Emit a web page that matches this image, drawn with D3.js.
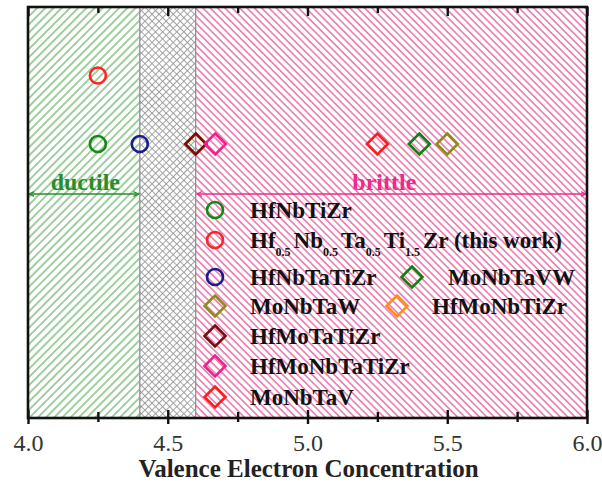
<!DOCTYPE html>
<html>
<head>
<meta charset="utf-8">
<script src="https://cdn.jsdelivr.net/npm/d3@7/dist/d3.min.js"></script>
<style>
  html, body { margin: 0; padding: 0; background: #fff; }
  svg { display: block; }
  svg text { font-family: "Liberation Serif", "Times New Roman", Times, "DejaVu Serif", serif !important; }
</style>
</head>
<body>
<svg id="chart" width="602" height="484"></svg>
<script>
// Alloys: label (with _{..} for subscripts), valence electron concentration, vertical level, marker, colour
const alloyNames = [
  "HfNbTiZr",
  "Hf_{0.5}Nb_{0.5}Ta_{0.5}Ti_{1.5}Zr (this work)",
  "HfNbTaTiZr",
  "MoNbTaVW",
  "MoNbTaW",
  "HfMoNbTiZr",
  "HfMoTaTiZr",
  "HfMoNbTaTiZr",
  "MoNbTaV"
];
const alloyVEC    = [4.25, 4.25, 4.4, 5.4, 5.5, 4.6, 4.6, 4.67, 5.25];
const alloyLevel  = [4, 5, 4, 4, 4, 4, 4, 4, 4];
const alloyShape  = ["circle", "circle", "circle", "diamond", "diamond", "diamond", "diamond", "diamond", "diamond"];
const alloyColor  = ["#138a13", "#ff2424", "#1c1c8e", "#108010", "#8c8c16", "#ff8c1c", "#7c0c0c", "#f0208c", "#ff1c1c"];

// VEC regions
const regionNames  = ["ductile", "transition", "brittle"];
const regionBounds = [[4.0, 4.4], [4.4, 4.6], [4.6, 6.0]];

const majorTicks = [4.0, 4.5, 5.0, 5.5, 6.0];
const minorTicks = [4.25, 4.75, 5.25, 5.75];
const xTitle = "Valence Electron Concentration";

const serif = "'Liberation Serif', 'Times New Roman', Times, 'DejaVu Serif', serif";
const svg = d3.select("#chart").attr("font-family", serif);
const plotLeft = 28, plotRight = 587, plotTop = 7, plotBottom = 418;

const x = d3.scaleLinear().domain([4.0, 6.0]).range([plotLeft, plotRight]);
const y = d3.scaleLinear().domain([0, 6]).range([plotBottom, plotTop]);

// hatch patterns
const defs = svg.append("defs");
function hatch(id, w, angle, color, sw, cross) {
  const p = defs.append("pattern")
    .attr("id", id).attr("patternUnits", "userSpaceOnUse")
    .attr("width", w).attr("height", w)
    .attr("patternTransform", `rotate(${angle})`);
  p.append("rect").attr("width", w).attr("height", w).attr("fill", "#fff");
  p.append("line").attr("x1", w / 2).attr("y1", 0).attr("x2", w / 2).attr("y2", w)
    .attr("stroke", color).attr("stroke-width", sw);
  if (cross) {
    p.append("line").attr("x1", 0).attr("y1", w / 2).attr("x2", w).attr("y2", w / 2)
      .attr("stroke", color).attr("stroke-width", sw);
  }
}
hatch("hatch-ductile", 5.8, 45, "#62ae62", 1.2, false);
hatch("hatch-transition", 5.0, 45, "#999999", 0.9, true);
hatch("hatch-brittle", 5.2, -45, "#e45c9c", 1.3, false);

const regionFill = ["url(#hatch-ductile)", "url(#hatch-transition)", "url(#hatch-brittle)"];
svg.append("g").selectAll("rect")
  .data(regionBounds)
  .join("rect")
  .attr("x", d => x(d[0]))
  .attr("y", plotTop)
  .attr("width", d => x(d[1]) - x(d[0]))
  .attr("height", plotBottom - plotTop)
  .attr("fill", (d, i) => regionFill[i]);

// region borders
svg.append("g").selectAll("line")
  .data([4.4, 4.6])
  .join("line")
  .attr("x1", d => x(d)).attr("x2", d => x(d))
  .attr("y1", plotTop).attr("y2", plotBottom)
  .attr("stroke", "#8a8a8a").attr("stroke-width", 1.2);

// ductile / brittle arrows
const arrowY = 194;
function arrowMarker(id, color) {
  const m = defs.append("marker")
    .attr("id", id).attr("viewBox", "0 0 10 10")
    .attr("refX", 9).attr("refY", 5)
    .attr("markerWidth", 6).attr("markerHeight", 6)
    .attr("markerUnits", "userSpaceOnUse")
    .attr("orient", "auto-start-reverse");
  m.append("path").attr("d", "M0,1 L9,5 L0,9").attr("fill", "none")
    .attr("stroke", color).attr("stroke-width", 2);
}
arrowMarker("arrow-green", "#2a8c2a");
arrowMarker("arrow-pink", "#ee2a8c");

const arrows = [
  { b: regionBounds[0], color: "#2a8c2a", marker: "arrow-green", label: regionNames[0] },
  { b: regionBounds[2], color: "#ee2a8c", marker: "arrow-pink", label: regionNames[2] }
];
arrows.forEach(a => {
  svg.append("line")
    .attr("x1", x(a.b[0]) + 1).attr("x2", x(a.b[1]) - 1)
    .attr("y1", arrowY).attr("y2", arrowY)
    .attr("stroke", a.color).attr("stroke-width", 1.6)
    .attr("marker-start", `url(#${a.marker})`)
    .attr("marker-end", `url(#${a.marker})`);
});
svg.append("text")
  .attr("x", x(4.205)).attr("y", 190)
  .attr("text-anchor", "middle").attr("font-size", 24).attr("font-weight", "bold")
  .attr("fill", "#2a8c2a").text(arrows[0].label);
svg.append("text")
  .attr("x", x(5.275)).attr("y", 190)
  .attr("text-anchor", "middle").attr("font-size", 24).attr("font-weight", "bold")
  .attr("fill", "#ee2a8c").text(arrows[1].label);

// markers
function drawMarker(g, shape, cx, cy, color) {
  if (shape === "circle") {
    g.append("circle").attr("cx", cx).attr("cy", cy).attr("r", 8)
      .attr("fill", "none").attr("stroke", color).attr("stroke-width", 2.6);
  } else {
    const s = 10.5;
    g.append("path")
      .attr("d", `M${cx},${cy - s} L${cx + s},${cy} L${cx},${cy + s} L${cx - s},${cy} Z`)
      .attr("fill", "none").attr("stroke", color).attr("stroke-width", 2.6);
  }
}

// plotted points (orange under dark red)
const plotOrder = [0, 1, 2, 3, 4, 5, 6, 7, 8];
const pts = svg.append("g");
plotOrder.forEach(i => drawMarker(pts, alloyShape[i], x(alloyVEC[i]), y(alloyLevel[i]), alloyColor[i]));

// legend
const legendRowY = [210, 240, 277, 306, 336, 366, 397];
const legendSlots = [
  { row: 0, mx: 215, tx: 250 },
  { row: 1, mx: 215, tx: 250 },
  { row: 2, mx: 215, tx: 250 },
  { row: 2, mx: 412, tx: 448 },
  { row: 3, mx: 215, tx: 250 },
  { row: 3, mx: 397, tx: 432 },
  { row: 4, mx: 215, tx: 250 },
  { row: 5, mx: 215, tx: 250 },
  { row: 6, mx: 215, tx: 250 }
];
const leg = svg.append("g");
alloyNames.forEach((name, i) => {
  const slot = legendSlots[i];
  const cy = legendRowY[slot.row];
  drawMarker(leg, alloyShape[i], slot.mx, cy, alloyColor[i]);
  const t = leg.append("text")
    .attr("x", slot.tx).attr("y", cy + 7.5)
    .attr("font-size", 23).attr("font-weight", "bold").attr("fill", "#111");
  const parts = name.split(/(_\{[^}]*\})/).filter(s => s.length);
  let sub = false;
  parts.forEach(p => {
    if (p.startsWith("_{")) {
      t.append("tspan").attr("font-size", 12).attr("dy", sub ? 0 : 8).text(p.slice(2, -1));
      sub = true;
    } else {
      t.append("tspan").attr("dy", sub ? -8 : 0).attr("dx", sub ? 3 : 0).text(p);
      sub = false;
    }
  });
});

// axes
const fmt = d3.format(".1f");
const bottomAxis = svg.append("g").attr("transform", `translate(0,${plotBottom})`)
  .call(d3.axisBottom(x).tickValues(majorTicks).tickFormat(fmt).tickSizeInner(-8).tickSizeOuter(0).tickPadding(16));
svg.append("g").attr("transform", `translate(0,${plotBottom})`)
  .call(d3.axisBottom(x).tickValues(minorTicks).tickFormat("").tickSizeInner(-6).tickSizeOuter(0));
svg.append("g").attr("transform", `translate(0,${plotBottom})`)
  .call(d3.axisBottom(x).tickValues(majorTicks).tickFormat("").tickSizeInner(6).tickSizeOuter(0));
svg.append("g").attr("transform", `translate(0,${plotBottom})`)
  .call(d3.axisBottom(x).tickValues(minorTicks).tickFormat("").tickSizeInner(4).tickSizeOuter(0));
svg.append("g").attr("transform", `translate(0,${plotTop})`)
  .call(d3.axisTop(x).tickValues(majorTicks).tickFormat("").tickSizeInner(-9).tickSizeOuter(0));
svg.append("g").attr("transform", `translate(0,${plotTop})`)
  .call(d3.axisTop(x).tickValues(minorTicks).tickFormat("").tickSizeInner(-6).tickSizeOuter(0));

svg.selectAll(".domain").remove();
svg.selectAll("g").filter(function () { return this.hasAttribute("font-family"); })
  .attr("font-family", serif);
svg.selectAll(".tick line").attr("stroke", "#111").attr("stroke-width", 2.4);
bottomAxis.selectAll("text")
  .attr("font-size", 24).attr("fill", "#333");

// frame
svg.append("rect")
  .attr("x", plotLeft).attr("y", plotTop)
  .attr("width", plotRight - plotLeft).attr("height", plotBottom - plotTop)
  .attr("fill", "none").attr("stroke", "#111").attr("stroke-width", 2.6);

// axis title
svg.append("text")
  .attr("x", (plotLeft + plotRight) / 2 + 1).attr("y", 477)
  .attr("text-anchor", "middle").attr("font-size", 25).attr("font-weight", "bold")
  .attr("fill", "#222").text(xTitle);
</script>
</body>
</html>
